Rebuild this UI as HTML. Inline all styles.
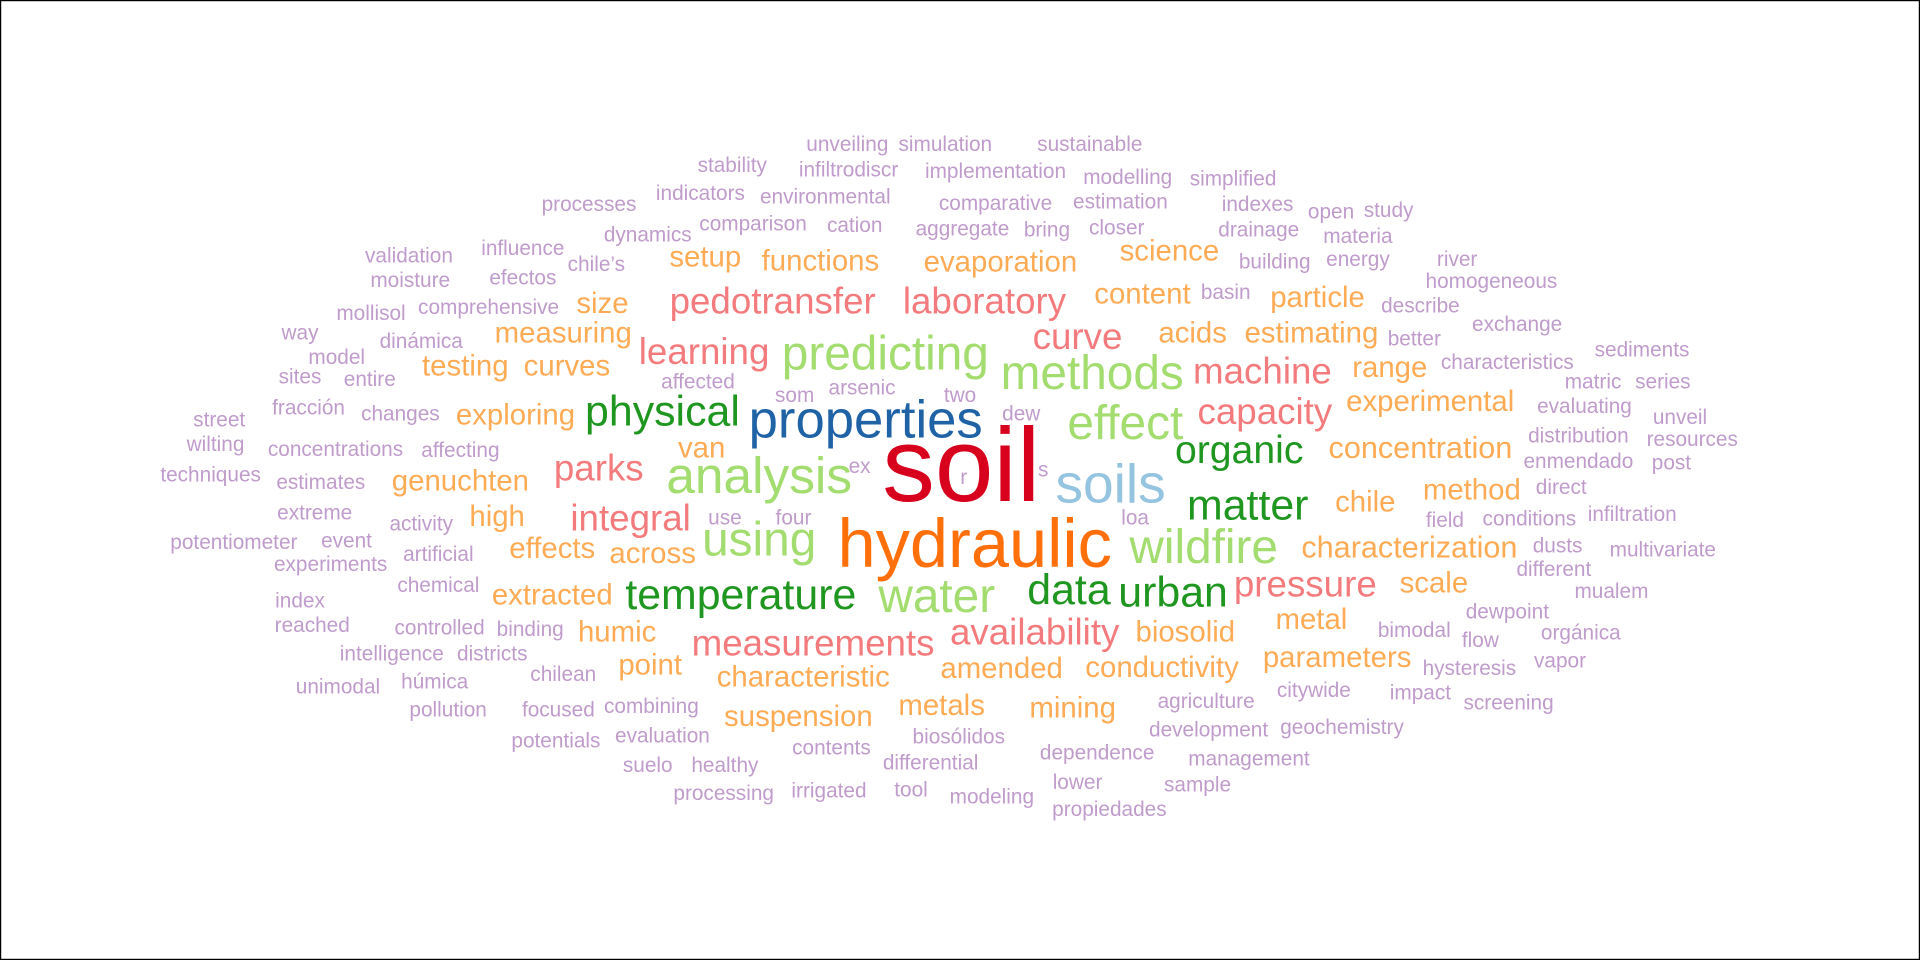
<!DOCTYPE html>
<html><head><meta charset="utf-8">
<style>
html,body{margin:0;padding:0;background:#fff;}
svg{display:block;}
text{font-family:"Liberation Sans",Arial,sans-serif;}
</style></head>
<body>
<svg id="cloud" width="1920" height="960" viewBox="0 0 1568 784" xmlns="http://www.w3.org/2000/svg">
<rect x="0.5" y="0.5" width="1567" height="783" fill="#fff" stroke="#000" stroke-width="1"/>
<g id="words"></g>
</svg>
<script>
const words = ["unveiling","simulation","sustainable","stability","infiltrodiscr","implementation","modelling","simplified",
"processes","indicators","environmental","comparative","estimation","indexes","open","study",
"dynamics","comparison","cation","aggregate","bring","closer","drainage","materia",
"influence","chile’s","validation","building","energy","river",
"setup","functions","evaporation","science",
"moisture","efectos","homogeneous",
"size","pedotransfer","laboratory","content","basin","particle","describe",
"mollisol","comprehensive",
"way","dinámica","measuring","curve","acids","estimating","better","exchange",
"model","entire","sites","learning","predicting","methods","machine","range","characteristics","sediments",
"testing","curves",
"street","fracción","changes","exploring","physical","properties","som","two","effect","capacity","experimental","matric","series","evaluating",
"wilting","concentrations","affecting","affected","van","analysis","parks","ex","soil","r","s","soils","organic","concentration","distribution","unveil","resources",
"techniques","estimates","genuchten","arsenic","dew","enmendado","post",
"extreme","activity","integral","four","use","using","hydraulic","loa","matter","chile","method","direct","field","conditions","infiltration",
"potentiometer","event","artificial","high","effects","across","wildfire","characterization","dusts","multivariate",
"experiments","different",
"index","chemical","extracted","temperature","water","data","urban","pressure","scale","mualem",
"reached","controlled","binding","humic","availability","biosolid","metal","dewpoint","bimodal","flow","orgánica",
"intelligence","districts","measurements","point","parameters","hysteresis","vapor",
"unimodal","húmica","chilean","characteristic","amended","conductivity","citywide","impact","screening",
"pollution","focused","combining","suspension","metals","mining","agriculture",
"potentials","evaluation","contents","biosólidos","dependence","development","geochemistry",
"suelo","healthy","differential","management",
"processing","irrigated","tool","modeling","lower","sample","propiedades"];
const xs = [692,772,890,598,693,813,921,1007,
481,572,674,813,915,1027,1087,1134,
529,615,698,786,855,912,1028,1109,
427,487,334,1041,1109,1190,
576,670,817,955,
335,427,1218,
492,631,804,933,1001,1076,1160,
303,399,
245,344,460,880,974,1071,1155,1239,
275,302,245,575,723,892,1031,1135,1231,1341,
380,463,
179,252,327,421,541,707,649,784,919,1033,1168,1301,1358,1294,
176,274,376,570,573,620,489,702,785,787,852,907,1012,1160,1289,1372,1382,
172,262,376,704,834,1289,1365,
257,344,515,648,592,620,796,927,1019,1115,1202,1275,1180,1249,1333,
191,283,358,406,451,533,983,1151,1272,1358,
270,1269,
245,358,451,605,765,873,958,1066,1171,1316,
255,359,433,504,845,968,1071,1231,1155,1209,1291,
320,402,664,531,1092,1200,1274,
276,355,460,656,818,949,1073,1160,1232,
366,456,532,652,769,876,985,
454,541,679,783,896,987,1096,
529,592,760,1020,
591,677,744,810,880,978,906];
const ys = [118,118,118,135,139,140,145,146,
167,158,161,166,165,167,173,172,
192,183,184,187,188,186,188,193,
203,216,209,214,212,212,
210,213,214,205,
229,227,230,
248,246,246,240,239,243,250,
256,251,
272,279,272,275,272,272,277,265,
292,310,308,287,289,305,303,300,296,286,
299,299,
343,333,338,339,336,343,323,323,346,336,328,312,312,332,
363,367,368,312,366,388,382,381,380,390,384,395,368,366,356,341,359,
388,394,393,317,338,377,378,
419,428,423,423,423,441,444,423,413,410,400,398,425,424,420,
443,442,453,422,448,452,447,447,446,449,
461,465,
491,478,486,486,487,482,484,477,476,483,
511,513,514,516,516,516,506,500,515,523,517,
534,534,525,543,537,546,540,
561,557,551,553,546,545,564,566,574,
580,580,577,585,576,578,573,
605,601,611,602,615,596,594,
625,625,623,620,
648,646,645,651,639,641,661];
const cls = ["p","p","p","p","p","p","p","p",
"p","p","p","p","p","p","p","p",
"p","p","p","p","p","p","p","p",
"p","p","p","p","p","p",
"o","o","o","o",
"p","p","p",
"o","k","k","o","p","o","p",
"p","p",
"p","p","o","k","o","o","p","p",
"p","p","p","k","g","g","k","o","p","p",
"o","o",
"p","p","p","o","d","B","p","p","g","k","o","p","p","p",
"p","p","p","p","o","g","k","p","S","p","p","L","d","o","p","p","p",
"p","p","o","p","p","p","p",
"p","p","k","p","p","g","H","p","d","o","o","p","p","p","p",
"p","p","p","o","o","o","g","o","p","p",
"p","p",
"p","p","o","d","g","d","d","k","o","p",
"p","p","p","o","k","o","o","p","p","p","p",
"p","p","k","o","o","p","p",
"p","p","p","o","o","o","p","p","p",
"p","p","p","o","o","o","p",
"p","p","p","p","p","p","p",
"p","p","p","p",
"p","p","p","p","p","p","p"];
const sizes = {p:17, o:24, k:30, g:39, d:35};
const colors = {p:"#c09ccc", o:"#fdab55", k:"#f47b7d", g:"#a3dc6f", d:"#1f961f", B:"#1f63a6", S:"#d7001d", L:"#94c4df", H:"#ff6f0a"};
const special = {"soil":86,"hydraulic":56,"soils":45,"properties":43,"analysis":42,"organic":32,"concentration":25,"characterization":25};

const g = document.getElementById('words');
for (let i = 0; i < words.length; i++) {
  const t = document.createElementNS('http://www.w3.org/2000/svg','text');
  
  
  t.setAttribute('x', xs[i]);
  t.setAttribute('y', ys[i]);
  t.setAttribute('text-anchor', 'middle');
  t.setAttribute('dominant-baseline', 'central');
  const c = cls[i];
  const fs = special[words[i]] || sizes[c] || 35;
  t.setAttribute('font-size', fs);
  t.setAttribute('fill', colors[c]);
  t.textContent = words[i];
  g.appendChild(t);
}
</script>
</body></html>
